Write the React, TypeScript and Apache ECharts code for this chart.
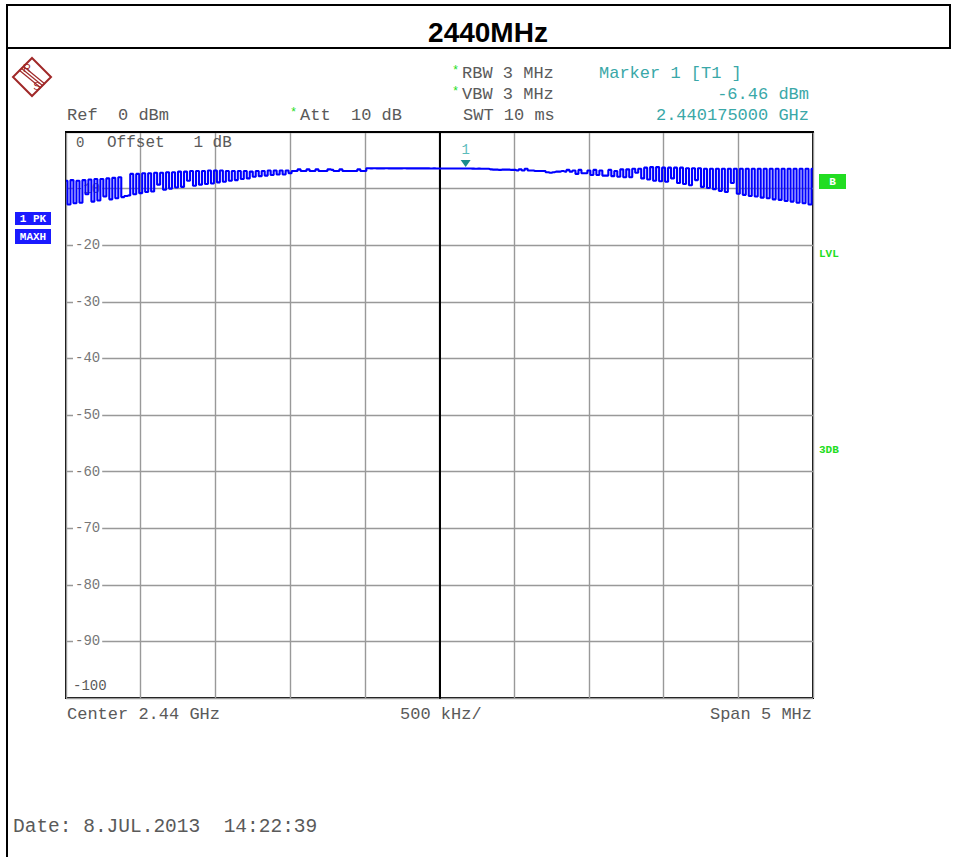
import React, { useEffect, useRef } from "react";
import * as echarts from "echarts";

// Sweep: frequency offset from centre (MHz), 251 sweep points
const spanStartMHz = -2.5;
const spanEndMHz = 2.5;
const sweepStepMHz = 0.02;

// Max-hold trace level (dBm)
const traceDb = [
  -8.6, -12.8, -8.5, -12.6, -8.6, -12.5, -8.5, -11.0, -8.4, -12.3,
  -8.3, -12.1, -8.3, -11.4, -8.2, -11.9, -8.1, -11.7, -8.0, -11.5,
  -11.3, -11.2, -7.4, -11.0, -7.4, -10.8, -7.3, -10.6, -7.3, -10.5,
  -7.2, -9.3, -7.2, -10.2, -7.1, -10.0, -7.1, -9.8, -7.0, -9.7,
  -7.0, -8.6, -6.9, -9.5, -6.9, -9.3, -6.9, -9.2, -6.8, -9.1,
  -6.8, -8.9, -6.8, -8.8, -6.9, -8.6, -6.9, -8.5, -6.9, -8.3,
  -6.9, -8.2, -7.0, -7.9, -6.9, -7.8, -6.9, -7.7, -6.8, -7.6,
  -6.8, -7.5, -6.8, -7.5, -6.8, -7.3, -6.9, -6.9, -6.6, -6.9,
  -6.9, -6.6, -6.9, -6.9, -6.6, -6.9, -6.9, -6.9, -6.6, -6.7,
  -6.9, -6.9, -6.6, -6.9, -6.9, -6.9, -6.9, -6.9, -6.6, -6.9,
  -6.9, -6.4, -6.42, -6.41, -6.43, -6.42, -6.42, -6.41, -6.43, -6.42,
  -6.42, -6.43, -6.42, -6.41, -6.42, -6.43, -6.42, -6.42, -6.43, -6.42,
  -6.43, -6.42, -6.44, -6.43, -6.44, -6.45, -6.44, -6.45, -6.45, -6.44,
  -6.45, -6.46, -6.45, -6.46, -6.46, -6.45, -6.47, -6.48, -6.47, -6.48,
  -6.49, -6.5, -6.6, -6.65, -6.65, -6.7, -6.65, -6.65, -6.65, -6.7,
  -6.7, -6.8, -6.6, -6.8, -6.5, -6.8, -6.8, -6.9, -6.9, -6.9,
  -6.9, -7.1, -7.2, -7.1, -7.0, -7.0, -6.9, -7.0, -6.7, -7.0,
  -6.8, -7.4, -6.7, -7.3, -7.3, -6.8, -7.6, -6.7, -7.6, -6.8,
  -7.7, -7.7, -6.7, -7.8, -6.9, -7.9, -6.6, -8.0, -6.6, -8.0,
  -6.5, -7.2, -6.5, -8.2, -6.3, -8.4, -6.2, -8.6, -6.2, -8.7,
  -6.3, -8.8, -6.3, -8.2, -6.3, -9.0, -6.3, -9.2, -6.4, -9.4,
  -6.4, -8.5, -6.4, -9.7, -6.5, -9.9, -6.5, -10.1, -6.5, -10.4,
  -6.5, -10.6, -6.5, -9.0, -6.5, -10.9, -6.5, -11.1, -6.5, -11.3,
  -6.5, -11.4, -6.5, -11.6, -6.5, -11.7, -6.5, -11.9, -6.5, -12.0,
  -6.5, -12.2, -6.5, -12.3, -6.5, -12.5, -6.5, -12.6, -6.5, -12.8,
  -6.5,
];

// Marker 1
const markerFreqMHz = 0.175;
const markerDb = -6.46;

// Axis scale
const refLevelDb = 0;
const bottomDb = -100;
const dbPerDiv = 10;
const freqPerDiv = 0.5;
const yTickLabels = [-10, -20, -30, -40, -50, -60, -70, -80, -90];

// Texts
const titleText = "2440MHz";
const headerLeft = ["Ref  0 dBm", "Att  10 dB"];
const headerMid = ["RBW 3 MHz", "VBW 3 MHz", "SWT 10 ms"];
const markerTexts = ["Marker 1 [T1 ]", "-6.46 dBm", "2.440175000 GHz"];
const footerTexts = ["Center 2.44 GHz", "500 kHz/", "Span 5 MHz"];
const dateText = "Date: 8.JUL.2013  14:22:39";

const MONO = '"Liberation Mono", "DejaVu Sans Mono", monospace';
const GRAY = "#5a5a5a";
const TEAL = "#3aa8a8";
const GREEN = "#22dd22";
const BLUE = "#1a1aff";

export default function App() {
  const ref = useRef<HTMLDivElement>(null);

  useEffect(() => {
    if (!ref.current) return;
    const chart = echarts.init(ref.current, undefined, { renderer: "svg" });

    const data = traceDb.map((v, i) => [spanStartMHz + i * sweepStepMHz, v]);

    const txt = (
      text: string,
      x: number,
      y: number,
      fill: string,
      size: number,
      align: string = "left",
      extra: any = {}
    ) => ({
      type: "text",
      z: 10,
      style: {
        text,
        x,
        y,
        fill,
        font: `${extra.weight || "normal"} ${size}px ${extra.family || MONO}`,
        align,
        verticalAlign: "middle",
      },
    });

    const graphics: any[] = [
      // outer frame
      { type: "rect", shape: { x: 7, y: 5, width: 943, height: 43 }, style: { fill: "none", stroke: "#000", lineWidth: 2 } },
      { type: "line", shape: { x1: 7, y1: 48, x2: 7, y2: 857 }, style: { stroke: "#000", lineWidth: 2 } },
      txt(titleText, 488, 32, "#000", 28, "center", { weight: "bold", family: '"Liberation Sans", Arial, sans-serif' }),
      // R&S logo
      {
        type: "polygon",
        shape: { points: [[32, 58], [51, 77], [32, 96], [13, 77]] },
        style: { fill: "none", stroke: "#a02828", lineWidth: 2 },
      },
      { type: "line", shape: { x1: 21, y1: 68, x2: 43, y2: 86 }, style: { stroke: "#a02828", lineWidth: 1.2 } },
      { type: "line", shape: { x1: 23, y1: 66, x2: 45, y2: 84 }, style: { stroke: "#a02828", lineWidth: 1.2 } },
      { type: "line", shape: { x1: 19, y1: 70, x2: 41, y2: 88 }, style: { stroke: "#a02828", lineWidth: 1.2 } },
      txt("R", 27, 68, "#a02828", 11, "center", { family: '"Liberation Sans", sans-serif' }),
      txt("S", 37, 86, "#a02828", 11, "center", { family: '"Liberation Sans", sans-serif' }),
      // header
      txt(headerLeft[0], 67, 115, GRAY, 17),
      txt("*", 290, 113, GREEN, 12),
      txt(headerLeft[1], 300, 115, GRAY, 17),
      txt("*", 452, 71, GREEN, 12),
      txt(headerMid[0], 462, 73, GRAY, 17),
      txt("*", 452, 92, GREEN, 12),
      txt(headerMid[1], 462, 94, GRAY, 17),
      txt(headerMid[2], 463, 115, GRAY, 17),
      txt(markerTexts[0], 599, 73, TEAL, 17),
      txt(markerTexts[1], 809, 94, TEAL, 17, "right"),
      txt(markerTexts[2], 809, 115, TEAL, 17, "right"),
      // inside-plot header
      txt(String(refLevelDb), 76, 143, GRAY, 14),
      txt("Offset   1 dB", 107, 143, GRAY, 16),
      txt(String(bottomDb), 73, 686, GRAY, 14),
      // trace status boxes
      { type: "rect", z: 10, shape: { x: 15, y: 212, width: 36, height: 13 }, style: { fill: BLUE } },
      txt("1 PK", 33, 218.5, "#fff", 11, "center", { weight: "bold" }),
      { type: "rect", z: 10, shape: { x: 15, y: 229, width: 36, height: 15 }, style: { fill: BLUE } },
      txt("MAXH", 33, 236.5, "#fff", 11, "center", { weight: "bold" }),
      // right side
      { type: "rect", z: 10, shape: { x: 819, y: 174, width: 27, height: 15 }, style: { fill: GREEN } },
      txt("B", 832.5, 181.5, "#fff", 11, "center", { weight: "bold" }),
      txt("LVL", 819, 254, GREEN, 11, "left", { weight: "bold" }),
      txt("3DB", 819, 450, GREEN, 11, "left", { weight: "bold" }),
      // footer
      txt(footerTexts[0], 67, 714, GRAY, 17),
      txt(footerTexts[1], 400, 714, GRAY, 17),
      txt(footerTexts[2], 812, 714, GRAY, 17, "right"),
      txt(dateText, 13, 827, GRAY, 19.5),
    ];

    chart.setOption({
      animation: false,
      backgroundColor: "#fff",
      textStyle: { fontFamily: MONO },
      grid: {
        left: 66,
        top: 132,
        width: 747,
        height: 566,
        show: true,
        borderColor: "#000",
        borderWidth: 2,
        backgroundColor: "transparent",
      },
      xAxis: {
        type: "value",
        min: spanStartMHz,
        max: spanEndMHz,
        interval: freqPerDiv,
        axisLabel: { show: false },
        axisTick: { show: false },
        axisLine: { show: true, lineStyle: { color: "#000", width: 2 } },
        splitLine: { show: true, lineStyle: { color: "#999", width: 1.4 } },
      },
      yAxis: {
        type: "value",
        min: bottomDb,
        max: refLevelDb,
        interval: dbPerDiv,
        axisTick: { show: false },
        axisLine: { show: true, lineStyle: { color: "#000", width: 2 } },
        splitLine: { show: true, lineStyle: { color: "#999", width: 1.4 } },
        axisLabel: {
          show: true,
          inside: true,
          margin: 7,
          formatter: (v: number) => (yTickLabels.includes(v) ? `{b|${v}}` : ""),
          rich: {
            b: {
              fontFamily: MONO,
              fontSize: 14,
              color: "#777",
              backgroundColor: "#fff",
              padding: [0, 2, 0, 2],
            },
          },
        },
      },
      series: [
        {
          type: "line",
          data,
          step: "middle",
          symbol: "none",
          z: 3,
          lineStyle: { color: "#0000ff", width: 2.1 },
          markLine: {
            silent: true,
            symbol: ["none", "none"],
            label: { show: false },
            lineStyle: { color: "#000", width: 2, type: "solid" },
            data: [{ xAxis: 0 }],
            z: 1,
          },
          markPoint: {
            silent: true,
            symbol: "triangle",
            symbolRotate: 180,
            symbolSize: [10, 7],
            symbolOffset: [0, -5],
            itemStyle: { color: "#1a8c8c" },
            label: {
              show: true,
              position: "top",
              distance: 3,
              formatter: "1",
              color: "#5cbcbc",
              fontSize: 14,
              fontFamily: MONO,
            },
            data: [{ coord: [markerFreqMHz, markerDb] }],
          },
        },
      ],
      graphic: { elements: graphics },
    });

    return () => chart.dispose();
  }, []);

  return (
    <div
      ref={ref}
      style={{ position: "absolute", left: 0, top: 0, width: 957, height: 857, background: "#fff" }}
    />
  );
}
